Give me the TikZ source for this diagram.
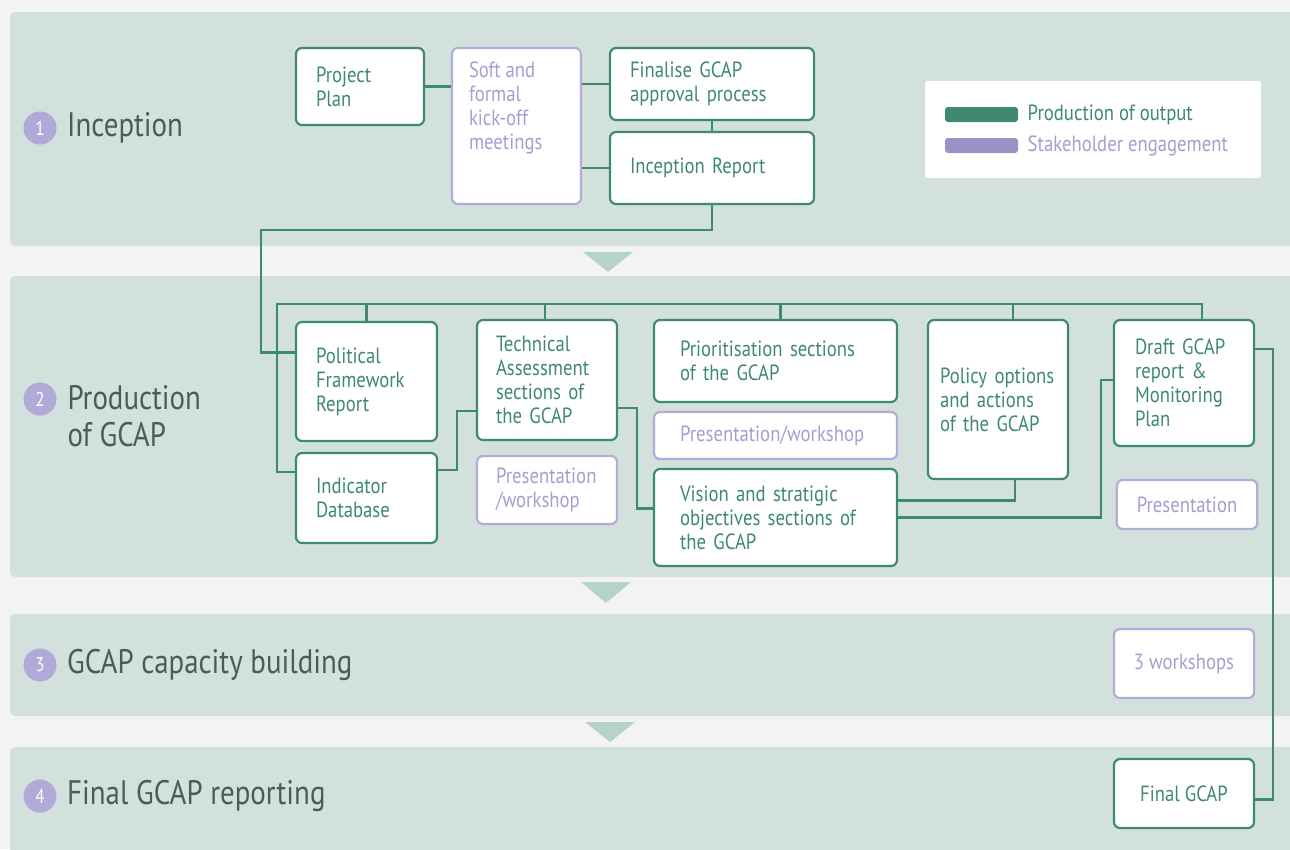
\documentclass[tikz,border=0pt]{standalone}
\usepackage{fontspec}
\setmainfont{PT Sans}[FakeStretch=0.85]
\usetikzlibrary{positioning}

\definecolor{paper}{HTML}{F3F3F2}
\definecolor{bandcol}{HTML}{D2E1DB}
\definecolor{arrowcol}{HTML}{B6D3C8}
\definecolor{gcgreen}{HTML}{3F8A6C}
\definecolor{gcpurple}{HTML}{B3ACD9}
\definecolor{gclilac}{HTML}{A69ED3}
\definecolor{barpurple}{HTML}{9893C7}
\definecolor{numpurple}{HTML}{B1A9D7}
\definecolor{phasetext}{HTML}{4A5D55}

\newcommand\boxfont{\fontsize{22}{24}\selectfont}
\newcommand\phasefont{\fontsize{34}{37}\selectfont}

\begin{document}
\begin{tikzpicture}[x=1pt, y=-1pt, font=\boxfont,
    band/.style={fill=bandcol, rounded corners=5pt},
    output/.style={draw=gcgreen, line width=2.2pt, rounded corners=6pt, fill=white,
        text=gcgreen, align=left, inner xsep=20pt, inner ysep=4pt},
    engage/.style={output, draw=gcpurple, text=gclilac},
    link/.style={draw=gcgreen, line width=2.2pt},
    num/.style={circle, fill=numpurple, text=white, minimum size=33pt, inner sep=0pt,
        font=\fontsize{20}{20}\selectfont},
    phase/.style={text=phasetext, font=\phasefont, align=left}]

    \clip (0,0) rectangle (1290,849);
    \fill[paper] (0,0) rectangle (1290,849);

    % phase bands
    \fill[band] (10,12) rectangle (1310,246);
    \fill[band] (10,276) rectangle (1310,577);
    \fill[band] (10,614) rectangle (1310,716);
    \fill[band] (10,747) rectangle (1310,870);

    % arrows between the bands
    \fill[arrowcol] (583,252) -- (633,252) -- (608,272) -- cycle;
    \fill[arrowcol] (581,582) -- (631,582) -- (606,603) -- cycle;
    \fill[arrowcol] (585,722) -- (635,722) -- (610,742) -- cycle;

    % phase titles
    \node[num] (n1) at (40,128) {1};
    \node[phase, right=7pt of n1] (t1) {Inception};
    \node[num] (n2) at (40,399) {2};
    \node[phase, anchor=north west] (t2) at (64,382) {Production\\of GCAP};
    \node[num] (n3) at (40,665) {3};
    \node[phase, right=7pt of n3] (t3) {GCAP capacity building};
    \node[num] (n4) at (40,796) {4};
    \node[phase, right=7pt of n4] (t4) {Final GCAP reporting};

    % legend
    \node[fill=white, rounded corners=2pt, minimum width=336pt, minimum height=97pt] (legend) at (1093,129.5) {};
    \node[fill=gcgreen, rounded corners=3pt, minimum width=73pt, minimum height=15pt, inner sep=0pt] (kout) at (981.5,114.5) {};
    \node[fill=barpurple, rounded corners=3pt, minimum width=73pt, minimum height=15pt, inner sep=0pt] (keng) at (981.5,145.5) {};
    \node[right=6pt of kout, text=gcgreen] {Production of output};
    \node[right=6pt of keng, text=gclilac] {Stakeholder engagement};

    % 1 Inception
    \node[output, text width=88pt, minimum height=77pt] (plan) at (360,86.5) {Project\\Plan};
    \node[engage, inner xsep=17pt, inner ysep=14pt] (soft) at (516.5,126)
        {\parbox[t][128pt][t]{95pt}{Soft and\\formal\\kick-off\\meetings}};
    \node[output, text width=164pt, minimum height=72pt] (fin) at (712,84) {Finalise GCAP\\approval process};
    \node[output, text width=164pt, minimum height=72pt] (increp) at (712,168) {Inception Report};

    % 2 Production of GCAP
    \node[output, text width=101pt, minimum height=119pt] (pol) at (366.5,381.5) {Political\\Framework\\Report};
    \node[output, text width=101pt, minimum height=90pt] (indb) at (366.5,498) {Indicator\\Database};
    \node[output, inner xsep=19pt, text width=102pt, minimum height=120pt] (tech) at (547,380)
        {Technical\\Assessment\\sections of\\the GCAP};
    \node[engage, inner xsep=19pt, text width=102pt, minimum height=68pt] (pw1) at (547,490) {Presentation\\/workshop};
    \node[output, inner xsep=26pt, text width=191pt, minimum height=82pt] (prio) at (775.5,361)
        {Prioritisation sections\\of the GCAP};
    \node[engage, inner xsep=26pt, text width=191pt, minimum height=47pt] (pw2) at (775.5,435.5) {Presentation/workshop};
    \node[output, inner xsep=26pt, text width=191pt, minimum height=97pt] (vis) at (775.5,517.5)
        {Vision and stratigic\\objectives sections of\\the GCAP};
    \node[output, inner xsep=12pt, text width=116pt, minimum height=159pt] (polic) at (998,399.5)
        {Policy options\\and actions\\of the GCAP};
    \node[output, inner xsep=21pt, text width=98pt, minimum height=126pt] (draft) at (1184,383)
        {Draft GCAP\\report \&\\Monitoring\\Plan};
    \node[engage, align=center, minimum width=140pt, minimum height=49pt] (pres) at (1187,504.5) {Presentation};

    % 3 and 4
    \node[engage, align=center, minimum width=140pt, minimum height=69pt] (ws) at (1184,663.5) {3 workshops};
    \node[output, align=center, minimum width=140pt, minimum height=69pt] (final) at (1184,793.5) {Final GCAP};

    % links in phase 1
    \draw[link] (plan.east) -- (plan.east -| soft.west);
    \draw[link] (soft.east |- fin.west) -- (fin.west);
    \draw[link] (soft.east |- increp.west) -- (increp.west);
    \draw[link] (fin.south) -- (increp.north);

    % down into phase 2
    \coordinate (drop) at (261,230);
    \draw[link] (increp.south) |- (drop) |- ([yshift=29pt]pol.west);

    % common bus over the phase 2 boxes
    \coordinate (busL) at (277,304);
    \coordinate (busR) at (1202,304);
    \draw[link] ([yshift=26pt]indb.west) -| (busL) -- (busR) -- (busR |- draft.north);
    \foreach \n/\dx in {pol/0, tech/-2, prio/5, polic/15}
        \draw[link] ([xshift=\dx pt]\n.north) -- ([xshift=\dx pt]\n.north |- busL);

    \draw[link] ([yshift=28pt]indb.east) -- ++(19,0) |- ([yshift=-31pt]tech.west);
    \draw[link] ([yshift=-28pt]tech.east) -- ++(19,0) |- ([yshift=9pt]vis.west);
    \draw[link] ([yshift=17pt]vis.east) -| ([xshift=17pt]polic.south);
    \draw[link] (vis.east) -- ++(203,0) |- ([yshift=3pt]draft.west);

    % draft report to final
    \draw[link] ([yshift=34pt]draft.east) -- ++(18,0) |- ([yshift=-6pt]final.east);
\end{tikzpicture}
\end{document}
